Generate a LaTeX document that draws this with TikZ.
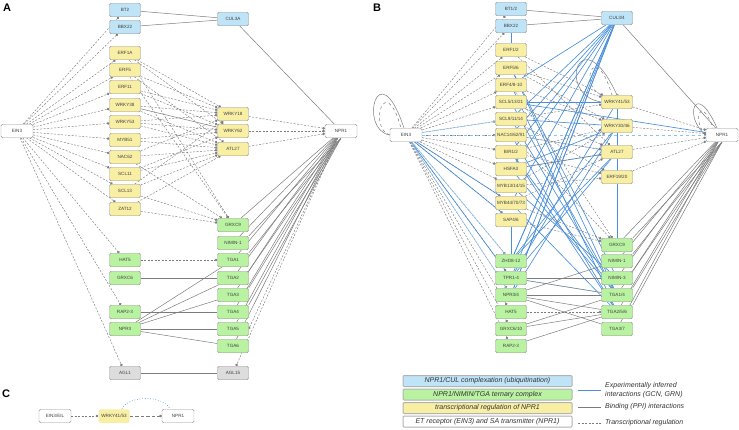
\documentclass[tikz,border=0pt]{standalone}
\usepackage{fontspec}
\setmainfont{Liberation Sans}
\usetikzlibrary{arrows.meta,backgrounds}

\definecolor{culfill}{HTML}{BFE3F7}
\definecolor{ternfill}{HTML}{B9F2A1}
\definecolor{tregfill}{HTML}{F8EFA5}
\definecolor{aglfill}{HTML}{DDDDDD}
\definecolor{edgegray}{HTML}{7C7C7C}
\definecolor{gcnblue}{HTML}{4A8FDB}
\definecolor{gcnlight}{HTML}{8FC3EF}

\tikzset{
  gene/.style={draw=gray!85, rounded corners=1.5pt, minimum width=31pt,
    minimum height=13.5pt, inner sep=0.5pt, text=black!75,
    font=\fontsize{4.6}{5}\selectfont},
  cul/.style={gene, fill=culfill},
  tern/.style={gene, fill=ternfill},
  treg/.style={gene, fill=tregfill},
  agl/.style={gene, fill=aglfill},
  hub/.style={gene, fill=white, minimum width=32pt},
  tf/.style={draw=edgegray, line width=0.45pt, dash pattern=on 2pt off 1.5pt,
    -{Circle[length=2.5pt, fill=edgegray]}},
  ppi/.style={draw=edgegray, line width=0.5pt},
  gcn/.style={draw=gcnblue, line width=0.65pt},
  gcnpale/.style={draw=gcnlight, line width=0.55pt},
  legbox/.style={draw=gray!60, line width=1pt, rounded corners=1pt,
    minimum width=169pt, minimum height=11pt, inner sep=0pt,
    font=\itshape\fontsize{7}{8}\selectfont, text=black!80},
  legtext/.style={anchor=west, align=left, inner sep=0pt, text=black!80,
    font=\itshape\fontsize{7}{8.5}\selectfont},
  panel/.style={font=\bfseries\fontsize{11}{12}\selectfont},
}

\begin{document}
\begin{tikzpicture}[x=1pt, y=-1pt]
		\useasboundingbox (0,0) rectangle (739,429);
		
		% panel A
		\node[panel] (labA) at (7,8) {A};
		\node[hub] (aEIN3) at (17,131) {EIN3};
		\node[hub] (aNPR1) at (341,131) {NPR1};
		\node[cul] (aBT2) at (125,10) {BT2};
		\node[cul] (aBBX22) at (125,27) {BBX22};
		\node[cul] (aCUL3A) at (233,19) {CUL3A};
		\node[treg] (aERF1A) at (125,53) {ERF1A};
		\node[treg] (aERF5) at (125,70) {ERF5};
		\node[treg] (aERF11) at (125,87) {ERF11};
		\node[treg] (aWRKY38) at (125,105) {WRKY38};
		\node[treg] (aWRKY53) at (125,122) {WRKY53};
		\node[treg] (aMYB51) at (125,140) {MYB51};
		\node[treg] (aNAC62) at (125,157) {NAC62};
		\node[treg] (aSCL11) at (125,174) {SCL11};
		\node[treg] (aSCL13) at (125,191) {SCL13};
		\node[treg] (aZAT12) at (125,209) {ZAT12};
		\node[tern] (aHAT5) at (125,260) {HAT5};
		\node[tern] (aGRXC6) at (125,278) {GRXC6};
		\node[tern] (aRAP23) at (125,312) {RAP2-3};
		\node[tern] (aNPR3) at (125,329) {NPR3};
		\node[agl] (aAGL1) at (125,373) {AGL1};
		\node[treg] (aWRKY18) at (233,114) {WRKY18};
		\node[treg] (aWRKY62) at (233,131) {WRKY62};
		\node[treg] (aATL27) at (233,149) {ATL27};
		\node[tern] (aGRXC9) at (233,225) {GRXC9};
		\node[tern] (aNIMIN1) at (233,243) {NIMIN-1};
		\node[tern] (aTGA1) at (233,260) {TGA1};
		\node[tern] (aTGA2) at (233,278) {TGA2};
		\node[tern] (aTGA3) at (233,295) {TGA3};
		\node[tern] (aTGA4) at (233,312) {TGA4};
		\node[tern] (aTGA5) at (233,329) {TGA5};
		\node[tern] (aTGA6) at (233,346) {TGA6};
		\node[agl] (aAGL15) at (233,373) {AGL15};
		
		\begin{scope}[on background layer]
		\draw[tf] (aEIN3) edge (aBT2) edge (aBBX22) edge (aERF1A) edge (aERF5)
		  edge (aERF11) edge (aWRKY38) edge (aWRKY53) edge (aMYB51) edge (aNAC62)
		  edge (aSCL11) edge (aSCL13) edge (aZAT12) edge (aHAT5) edge (aRAP23)
		  edge (aAGL1);
		\draw[tf] (aERF1A) edge (aWRKY18) edge (aWRKY62) edge (aGRXC9);
		\draw[tf] (aERF5) edge (aWRKY18) edge (aATL27) edge (aGRXC9);
		\draw[tf] (aERF11) edge (aWRKY18) edge (aWRKY62);
		\draw[tf] (aWRKY38) edge (aWRKY18) edge (aATL27);
		\draw[ppi] (aWRKY38) -- (aWRKY62);
		\draw[tf] (aWRKY53) edge (aWRKY18) edge (aWRKY62) edge (aATL27);
		\draw[tf] (aMYB51) edge (aWRKY62) edge (aATL27);
		\draw[tf] (aNAC62) edge (aWRKY18) edge (aATL27) edge (aGRXC9);
		\draw[tf] (aSCL11) edge (aWRKY62) edge (aATL27);
		\draw[tf] (aSCL13) edge (aWRKY18) edge (aATL27) edge (aGRXC9);
		\draw[tf] (aZAT12) edge (aATL27) edge (aGRXC9);
		\draw[tf] (aWRKY18) edge (aNPR1);
		\draw[tf] (aWRKY62) edge (aNPR1);
		\draw[tf] (aATL27) edge (aNPR1);
		\draw[tf] (aHAT5) -- (aTGA1);
		\draw[ppi] (aCUL3A) edge (aBT2) edge (aBBX22) edge (aNPR1);
		\draw[ppi] (aNPR1) edge (aGRXC9) edge (aNIMIN1) edge (aTGA1) edge (aTGA2)
		  edge (aTGA3) edge (aTGA4) edge (aTGA5) edge (aTGA6);
		\draw[ppi] (aNPR1.south) edge (aNIMIN1.north east) edge (aTGA1.north east)
		  edge (aTGA2.north east) edge (aTGA3.north east) edge (aTGA4.north east);
		\draw[tf] (aNPR1) edge (aTGA5.east) edge (aAGL15);
		\draw[ppi] (aGRXC6) -- (aTGA2);
		\draw[ppi] (aRAP23) -- (aTGA4);
		\draw[ppi] (aNPR3) edge (aTGA1) edge (aTGA2) edge (aTGA3) edge (aTGA5) edge (aTGA6);
		\draw[ppi] (aAGL1) -- (aAGL15);
		\end{scope}
		
		% panel B
		\node[panel] (labB) at (377,8) {B};
		\node[hub] (bEIN3) at (406,135) {EIN3};
		\node[hub] (bNPR1) at (722,135) {NPR1};
		\node[cul] (bBT12) at (511,9) {BT1/2};
		\node[cul] (bBBX22) at (511,26) {BBX22};
		\node[cul] (bCUL34) at (617,18) {CUL3/4};
		\node[treg] (bERF12) at (511,50) {ERF1/2};
		\node[treg] (bERF56) at (511,68) {ERF5/6};
		\node[treg] (bERF4) at (511,85) {ERF4/8-10};
		\node[treg] (bSCL5) at (511,102) {SCL5/13/21};
		\node[treg] (bSCL9) at (511,119) {SCL9/11/14};
		\node[treg] (bNAC14) at (511,135) {NAC14/62/91};
		\node[treg] (bBIR12) at (511,152) {BIR1/2};
		\node[treg] (bHSFA3) at (511,169) {HSFA3};
		\node[treg] (bMYB13) at (511,186) {MYB13/14/15};
		\node[treg] (bMYB44) at (511,203) {MYB44/70/73};
		\node[treg] (bSAP46) at (511,220) {SAP4/6};
		\node[tern] (bZHD8) at (511,261) {ZHD8-12};
		\node[tern] (bTPR14) at (511,278) {TPR1-4};
		\node[tern] (bNPR34) at (511,295) {NPR3/4};
		\node[tern] (bHAT5) at (511,312) {HAT5};
		\node[tern] (bGRXC6) at (511,329) {GRXC6/10};
		\node[tern] (bRAP23) at (511,346) {RAP2-3};
		\node[treg] (bWRKY41) at (617,102) {WRKY41/53};
		\node[treg] (bWRKY30) at (617,126) {WRKY30/46};
		\node[treg] (bATL27) at (617,152) {ATL27};
		\node[treg] (bERF19) at (617,177) {ERF19/20};
		\node[tern] (bGRXC9) at (617,245) {GRXC9};
		\node[tern] (bNIMIN1) at (617,261) {NIMIN-1};
		\node[tern] (bNIMIN3) at (617,278) {NIMIN-3};
		\node[tern] (bTGA14) at (617,295) {TGA1/4};
		\node[tern] (bTGA256) at (617,312) {TGA2/5/6};
		\node[tern] (bTGA37) at (617,329) {TGA3/7};
		
		\begin{scope}[on background layer]
		% self loops
		\draw[ppi] (bEIN3.west) .. controls (358,130) and (378,50) .. ([xshift=-2pt]bEIN3.north);
		\draw[ppi, dashed] (bEIN3.west) .. controls (368,128) and (385,70) .. ([xshift=-5pt]bEIN3.north);
		\draw[ppi] (bNPR1.west) .. controls (683,118) and (695,78) .. ([xshift=-5pt]bNPR1.north);
		\draw[ppi, dashed] (bNPR1.west) .. controls (692,122) and (700,92) .. ([xshift=-9pt]bNPR1.north);
		\draw[ppi, -{Bar[width=4pt]}] (bWRKY41.west) .. controls (555,95) and (580,15) .. (bWRKY41.north);
		\draw[ppi, dashed] (bWRKY41.north west) .. controls (578,85) and (595,38) .. ([xshift=-5pt]bWRKY41.north);
		\draw[tf] (bEIN3) edge (bBT12) edge (bBBX22) edge (bERF12) edge (bERF56)
		  edge (bERF4) edge (bSCL5) edge (bSCL9) edge (bNAC14) edge (bBIR12)
		  edge (bHSFA3) edge (bMYB13) edge (bMYB44) edge (bSAP46) edge (bZHD8)
		  edge (bTPR14) edge (bNPR34) edge (bHAT5) edge (bGRXC6) edge (bRAP23);
		\draw[gcn] (bEIN3) edge (bMYB44) edge (bSAP46) edge (bTPR14);
		\draw[gcnpale] (bEIN3) edge (bSCL9) edge (bZHD8) edge (bNPR34);
		\draw[gcnpale, dashed] (bEIN3) -- (bNPR1);
		\draw[ppi] (bCUL34) edge (bBT12) edge (bBBX22) edge (bNPR1);
		\draw[gcn] (bCUL34) edge (bERF4) edge (bSCL9) edge (bNAC14) edge (bBIR12)
		  edge (bHSFA3) edge (bMYB44) edge (bZHD8) edge (bTPR14) edge (bNPR34);
		\draw[gcn] (bBBX22) -- (bERF12);
		\draw[gcn] (bERF56) edge (bTGA14) edge (bNIMIN3);
		\draw[gcn] (bERF4) edge (bTGA256);
		\draw[gcn] (bSCL5) edge (bWRKY41) edge (bNPR1) edge (bTGA14);
		\draw[gcn] (bSCL9) edge (bWRKY30) edge (bTGA14);
		\draw[gcn] (bNAC14) edge (bTGA256);
		\draw[gcnpale] (bNAC14) edge (bATL27);
		\draw[gcn] (bBIR12) edge (bTGA14) edge (bTGA256);
		\draw[gcn] (bHSFA3) edge (bWRKY30) edge (bATL27) edge (bTGA14);
		\draw[gcn] (bMYB13) edge (bNIMIN3);
		\draw[gcn] (bMYB44) edge (bTGA256);
		\draw[gcn] (bSAP46) -- (bZHD8);
		\draw[gcn] (bZHD8) edge (bCUL34) edge (bWRKY30) edge (bATL27);
		\draw[gcn] (bTPR14) edge (bWRKY41) edge (bATL27);
		\draw[gcnpale] (bTPR14) -- (bTGA14);
		\draw[gcn] (bNPR34) edge (bCUL34) edge (bWRKY30);
		\draw[gcn] (bWRKY41) -- (bGRXC9);
		\draw[tf] (bERF12) edge (bWRKY41) edge (bATL27);
		\draw[tf] (bERF56) edge (bWRKY41) edge (bWRKY30);
		\draw[tf] (bERF4) edge (bWRKY30) edge (bGRXC9);
		\draw[tf] (bSCL5) edge (bATL27);
		\draw[tf] (bSCL9) edge (bWRKY41) edge (bERF19);
		\draw[tf] (bNAC14) edge (bATL27) edge (bGRXC9);
		\draw[tf] (bBIR12) edge (bWRKY30) edge (bERF19);
		\draw[tf] (bHSFA3) edge (bATL27);
		\draw[tf] (bMYB13) edge (bWRKY30) edge (bERF19);
		\draw[tf] (bMYB44) edge (bATL27) edge (bGRXC9);
		\draw[tf] (bSAP46) edge (bGRXC9);
		\draw[tf] (bHAT5) edge (bTGA256);
		\draw[tf] (bWRKY41) edge (bNPR1);
		\draw[tf] (bWRKY30) edge (bNPR1);
		\draw[tf] (bATL27) edge (bNPR1);
		\draw[tf] (bERF19) edge (bNPR1);
		\draw[ppi] (bNPR1) edge (bGRXC9) edge (bNIMIN1) edge (bNIMIN3) edge (bTGA14)
		  edge (bTGA256) edge (bTGA37);
		\draw[ppi] (bNPR1.south) edge (bGRXC9.north east) edge (bNIMIN1.north east)
		  edge (bNIMIN3.north east) edge (bTGA14.north east) edge (bTGA256.north east);
		\draw[ppi] (bTPR14) edge (bNIMIN3) edge (bTGA14);
		\draw[ppi] (bNPR34) edge (bNIMIN1) edge (bTGA14) edge (bTGA256) edge (bTGA37);
		\draw[ppi] (bGRXC6) edge (bTGA14) edge (bTGA256);
		\draw[ppi] (bRAP23) edge (bTGA256);
		\end{scope}
		
		% legend
		\node[legbox, fill=culfill] (legCul) at (487.5,381) {NPR1/CUL complexation (ubiquitination)};
		\node[legbox, fill=ternfill] (legTern) at (487.5,394.5) {NPR1/NIMIN/TGA ternary complex};
		\node[legbox, fill=tregfill] (legTreg) at (487.5,408) {transcriptional regulation of NPR1};
		\node[legbox, fill=white] (legHub) at (487.5,421.5) {ET receptor (EIN3) and SA transmitter (NPR1)};
		\coordinate (lgGcnA) at (578,390);
		\coordinate (lgGcnB) at (601,390);
		\coordinate (lgPpiA) at (578,407);
		\coordinate (lgPpiB) at (601,407);
		\coordinate (lgTfA) at (578,423);
		\coordinate (lgTfB) at (601,423);
		\draw[gcn] (lgGcnA) -- (lgGcnB);
		\draw[ppi] (lgPpiA) -- (lgPpiB);
		\draw[ppi, dash pattern=on 2pt off 1.5pt] (lgTfA) -- (lgTfB);
		\node[legtext] (lgGcnT) at (605,390) {Experimentally inferred\\interactions (GCN, GRN)};
		\node[legtext] (lgPpiT) at (605,407) {Binding (PPI) interactions};
		\node[legtext] (lgTfT) at (605,423) {Transcriptional regulation};
		
		% panel C
		\node[panel] (labC) at (6,394) {C};
		\node[hub] (cEIN3) at (55,416) {EIN3/EIL};
		\node[treg, draw=none] (cWRKY) at (114,416) {WRKY41/53};
		\node[hub] (cNPR1) at (178,416) {NPR1};
		\draw[tf] (cEIN3) -- (cWRKY);
		\draw[tf, dash pattern=on 3.5pt off 2pt] (cWRKY) -- (cNPR1);
		\draw[gcn, dotted] ([xshift=8pt]cWRKY.north) .. controls (128,395) and (164,395) .. ([xshift=-8pt]cNPR1.north);
		\end{tikzpicture}
\end{document}
